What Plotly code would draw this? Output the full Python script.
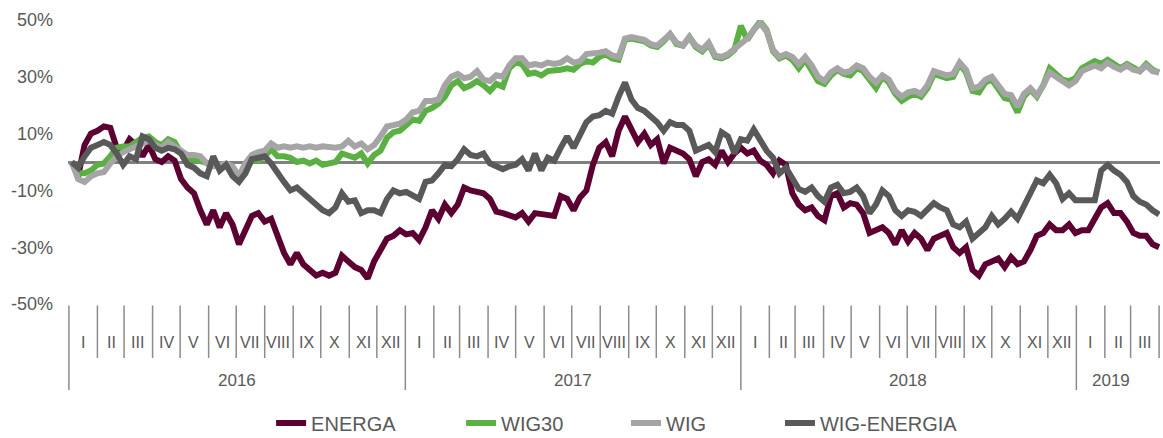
import pandas as pd
import plotly.graph_objects as go

# weekly observations, starting Monday 2016-01-04
start_date = "2016-01-04"

energa = [0, -5, 6, 10, 11, 12.5, 12, 5, 4, 8,
          6, 2, 6, 1, 0, 2, 0.5, -6, -9, -11,
          -17, -22, -17, -23, -18, -22, -29, -24, -19, -18,
          -21, -20, -26, -32, -36, -32, -36, -38, -40, -39,
          -40, -39, -33, -35, -37, -38, -41, -35, -31, -27,
          -26, -24, -25.5, -25, -27.5, -23, -17, -20, -15, -18,
          -15, -9, -10, -10.5, -11, -13, -17.5, -18, -18.5, -19.5,
          -18, -21, -18, -18.5, -19, -19, -12, -13, -17, -12.5,
          -10, -1, 5, 7, 2, 11, 16, 12, 7, 10,
          6, 8, -0.5, 5, 4, 3, 1, -5, 0, 1,
          -1, 4, 0, 3, 5, 3, 4, 0.5, -1, -4,
          0.5, -1, -11, -15, -17, -16, -19, -20.5, -12, -11,
          -16, -14.5, -15, -18, -25, -24, -23, -25, -29, -24,
          -28, -25, -27, -31, -27, -26, -25, -30, -32, -30,
          -38, -40, -36, -35, -34, -37, -33.5, -36, -35, -31,
          -26, -25, -22, -24, -24, -22, -25, -24, -24, -20,
          -16, -14.5, -18, -18, -21, -25, -26, -26, -29, -30]

wig30 = [0, -4, -4, -3, -1, -0.5, 2, 5, 5.5, 5.5,
         7, 8.5, 9, 7, 6, 8, 7, 3, 1.5, 1,
         0.5, -0.5, -1, -1.5, -1, -2.5, -6, -2.5, 0.5, 0.5,
         2, 4.5, 2, 2, 1.5, 0, 0.5, -0.5, 0.5, -1,
         -0.5, 0, 3, 2.5, 1.5, 3, -0.5, 2.5, 4, 8.5,
         10.5, 11, 13, 15, 14.5, 18, 19, 20.5, 23, 27,
         28.5, 26, 27, 28.5, 27, 25, 27.5, 26.5, 33, 35,
         34.5, 31, 31.5, 30.5, 32, 32, 32.5, 33, 32.5, 34.5,
         35.5, 35, 37, 38, 36.5, 36, 43, 43.5, 43, 42.5,
         41, 40.5, 42.5, 45, 41.5, 41, 44, 40.5, 39, 41.5,
         37, 36.5, 37.5, 39.5, 48, 43, 46.5, 49.5, 46.5, 39,
         36.5, 37.5, 36, 33, 36, 32.5, 28.5, 27.5, 30.5, 32.5,
         31, 30.5, 33, 32, 29, 26, 30, 28, 24, 21.5,
         23, 24, 23, 26, 31, 30, 29.5, 30, 34.5, 31.5,
         25, 24.5, 28, 29, 26, 22.5, 22, 17.5, 23, 25.5,
         23, 27, 33, 31, 29, 28.5, 29.5, 33, 34.5, 35.5,
         34.5, 36, 34.5, 33, 34.5, 33, 32, 34.5, 32.5, 31.5]

wig = [0, -6, -7, -5, -4, -3.5, -0.5, 2, 3.5, 4.5,
       5.5, 6.5, 7.5, 6, 5, 7, 5.5, 3.5, 2.5, 2.5,
       2, -0.5, -1.5, -1, -0.5, -1.5, -5, -0.5, 2.5, 3.5,
       4, 6.5, 5, 5.5, 5, 5.5, 5, 5.5, 5, 5.5,
       5, 5, 5.5, 7.5, 5.5, 6.5, 4.5, 6, 9, 12.5,
       13, 13.5, 15, 17.5, 18, 21.5, 21.5, 22, 27, 30,
       31, 29.5, 30, 32, 29, 28.5, 30.5, 30, 34, 36.5,
       36.5, 34, 34.5, 34, 35, 34.5, 35, 36.5, 35, 35.5,
       38, 38, 38.5, 39, 37.5, 37, 43.5, 44, 43.5, 43,
       41.5, 41, 43, 45, 42, 41, 44, 41, 39.5, 42,
       37.5, 37, 38, 40, 41.5, 43.5, 46.5, 49, 46, 39.5,
       37, 38, 37, 34.5, 37, 34, 30, 28.5, 31.5, 33,
       31.5, 32, 34, 33, 30, 28, 30.5, 29, 25, 23,
       24.5, 25, 24, 27, 32, 31.5, 30.5, 31, 35, 32.5,
       26, 26.5, 29, 30, 27, 24, 23.5, 19.5, 24, 26,
       23.5, 27, 31.5, 30, 28.5, 27, 28.5, 32, 33, 34,
       33, 35, 33.5, 32.5, 34, 32.5, 32, 34, 32, 31.5]

wig_energia = [0, -2, 2, 5, 6, 7, 6, 3, -1, 2,
               1, 9, 8, 5, 4, 5, 4.5, 3, -1, -2,
               -4, -5, 2, -3, -1, -5, -7, -4, 1, 1.5,
               2, -0.5, -4, -7, -10, -9, -11, -13, -15.5, -17,
               -18, -16, -11, -14, -13.5, -18, -17, -17, -18, -13,
               -10, -11, -10.5, -11.5, -13, -7, -6.5, -4, -1, -1.5,
               1, 4.5, 2.5, 2, 3, -0.5, -1.5, -2.5, -1.5, -1,
               1, -3, 3, -3, 1.5, 0.5, 5, 9, 5, 10,
               14, 16, 16.5, 18, 17, 23, 28, 22, 19, 18,
               16, 14, 11, 14, 13, 13, 11, 4, 5, 6,
               3.5, 10.5, 9, 3, 8, 7.5, 11.5, 8, 4, 1.5,
               -4, -2, -6, -9.5, -10.5, -9, -12, -14, -9, -8,
               -11, -10.5, -9, -12, -18, -15, -10, -12, -17, -19,
               -17, -17.5, -19, -17, -14.5, -16, -17, -22, -23, -21,
               -27, -25, -23, -19, -22, -20, -17.5, -20, -16, -11,
               -6.5, -7.5, -4.5, -7.5, -13, -11, -13.5, -13.5, -13, -13.5,
               -3, -1, -3, -4.5, -7, -12, -14, -15, -17, -18.5]

series_names = ["ENERGA", "WIG30", "WIG", "WIG-ENERGIA"]
series_colors = ["#5C0032", "#5BB043", "#A5A5A5", "#595959"]
month_labels = ["I", "II", "III", "IV", "V", "VI", "VII", "VIII", "IX", "X", "XI", "XII"]
years = [2016, 2017, 2018, 2019]
y_tick_vals = [-50, -30, -10, 10, 30, 50]
y_tick_text = ["-50%", "-30%", "-10%", "10%", "30%", "50%"]

dates = pd.date_range(start_date, periods=len(energa), freq="7D")

legend_ids = ["legend", "legend2", "legend3", "legend4"]
legend_x = [0.186, 0.360, 0.511, 0.652]

fig = go.Figure()
for name, vals, col, lid in zip(series_names, [energa, wig30, wig, wig_energia], series_colors, legend_ids):
    fig.add_trace(go.Scatter(x=dates, y=vals, mode="lines", name=name, legend=lid,
                             line=dict(color=col, width=6)))

# month / year separators and labels
sep_col = "#8C8C8C"
month_starts = pd.date_range("2016-01-01", "2019-04-01", freq="MS")
shapes = []
annotations = []
for d in month_starts:
    long = (d.month == 1)
    shapes.append(dict(type="line", xref="x", yref="paper", x0=d, x1=d,
                       y0=-0.005, y1=(-0.303 if long else -0.19),
                       line=dict(color=sep_col, width=1.5)))
for d in month_starts[:-1]:
    mid = d + pd.Timedelta(days=15)
    annotations.append(dict(xref="x", yref="paper", x=mid, y=-0.137, text=month_labels[d.month - 1],
                            showarrow=False, font=dict(size=16, color="#595959"),
                            xanchor="center", yanchor="middle"))
for yr in years:
    if yr < 2019:
        mid = pd.Timestamp(f"{yr}-07-02")
    else:
        mid = pd.Timestamp("2019-02-08")
    annotations.append(dict(xref="x", yref="paper", x=mid, y=-0.27, text=str(yr),
                            showarrow=False, font=dict(size=17, color="#595959"),
                            xanchor="center", yanchor="middle"))

legend_font = dict(family="Liberation Sans, Arial, sans-serif", size=20, color="#595959")
legends = {}
for lid, lx in zip(legend_ids, legend_x):
    legends[lid] = dict(orientation="h", x=lx, xanchor="left",
                        yref="container", y=0.034, yanchor="middle",
                        font=legend_font, bgcolor="rgba(0,0,0,0)")

fig.update_layout(
    width=1163, height=438,
    margin=dict(l=68, r=3, t=20, b=134, autoexpand=False),
    paper_bgcolor="white", plot_bgcolor="white",
    font=dict(family="Liberation Sans, Arial, sans-serif", color="#595959", size=16),
    xaxis=dict(type="date", range=["2015-12-31", "2019-04-02"], showticklabels=False,
               showgrid=False, zeroline=False, showline=False, ticks=""),
    yaxis=dict(range=[-50, 50], tickvals=y_tick_vals, ticktext=y_tick_text,
               showgrid=False, zeroline=True, zerolinecolor="#808080", zerolinewidth=2.5,
               showline=False, ticks="", tickfont=dict(size=18, color="#595959"),
               ticklabelstandoff=14),
    shapes=shapes, annotations=annotations,
    showlegend=True,
    **legends,
)

fig.write_html("out.html", config={"displayModeBar": False},
               post_script="document.body.style.margin='0px';")
